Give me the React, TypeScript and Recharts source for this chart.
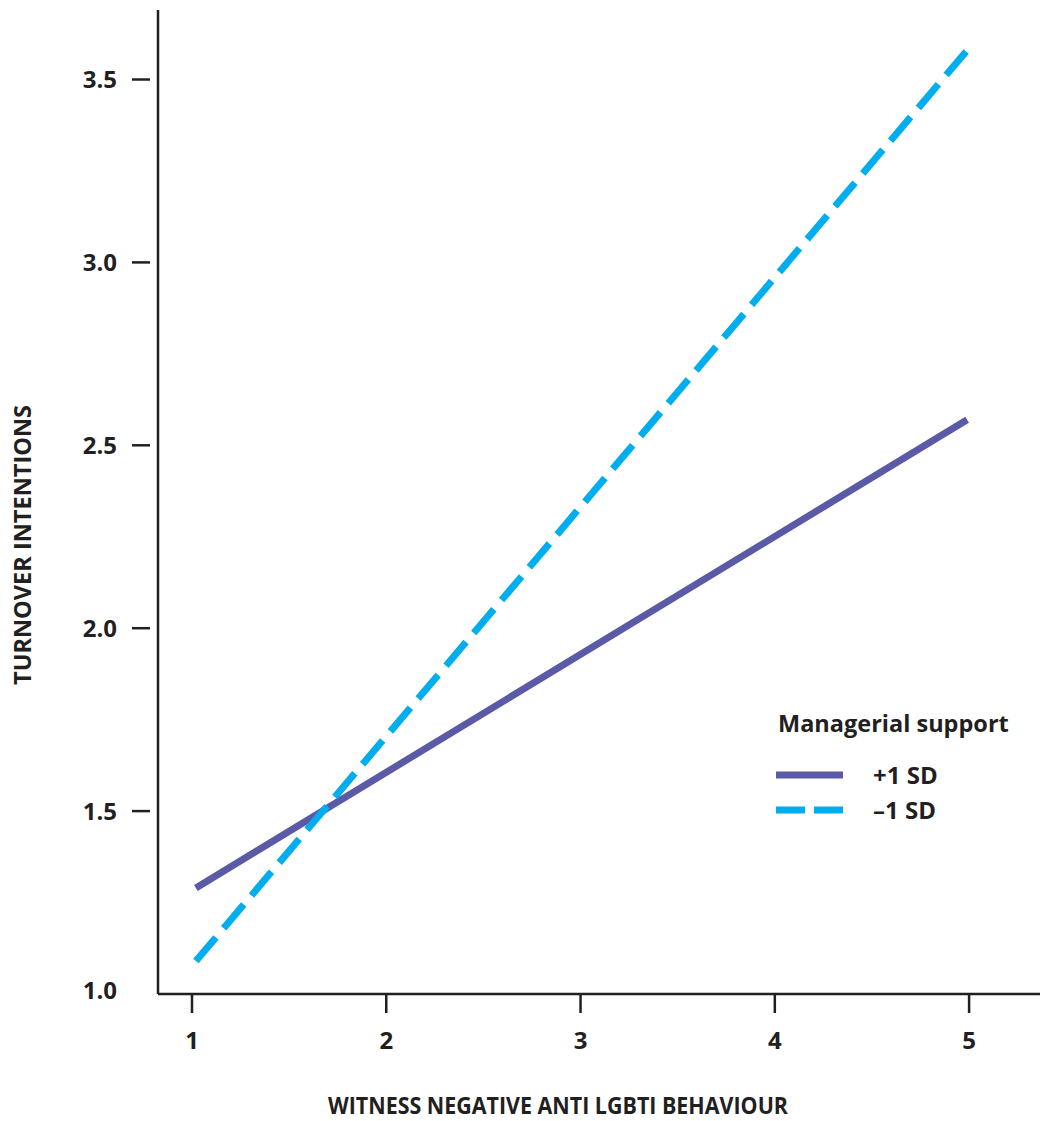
import { LineChart, Line, XAxis, YAxis } from 'recharts'

// valores
const xTicks = [1, 2, 3, 4, 5]
const yTicks = [1.0, 1.5, 2.0, 2.5, 3.0, 3.5]
const xStart = 1.02
const xEnd = 4.99
const highSupport = [1.29, 2.57] // +1 SD
const lowSupport = [1.09, 3.58] // –1 SD
const seriesLabels = ['+1 SD', '–1 SD']

const highData = [
  { x: xStart, y: highSupport[0] },
  { x: xEnd, y: highSupport[1] },
]
const lowData = [
  { x: xStart, y: lowSupport[0] },
  { x: xEnd, y: lowSupport[1] },
]

const PURPLE = '#5b5aa6'
const CYAN = '#00aeef'
const INK = '#231f20'
const FONT = '"Open Sans", "Noto Sans", sans-serif'

function YTick({ x, y, payload }: any) {
  const first = payload.value === 1
  return (
    <g>
      {!first && <line x1={x - 18} y1={y} x2={x} y2={y} stroke={INK} strokeWidth={2.5} />}
      <text x={x - 33} y={first ? y - 4 : y} dy={8.5} textAnchor="end" fill={INK}
        fontFamily={FONT} fontWeight={700} fontSize={24}>
        {payload.value.toFixed(1)}
      </text>
    </g>
  )
}

function XTitle({ viewBox }: any) {
  const cx = viewBox.x + viewBox.width / 2 - 41
  return (
    <text x={cx} y={viewBox.y + 120} textAnchor="middle" fill={INK}
      fontFamily={FONT} fontWeight={700} fontSize={24} textLength={460} lengthAdjust="spacingAndGlyphs">
      WITNESS NEGATIVE ANTI LGBTI BEHAVIOUR
    </text>
  )
}

function YTitle({ viewBox }: any) {
  const cx = viewBox.x + 21
  const cy = viewBox.y + viewBox.height / 2 + 43
  return (
    <text x={cx} y={cy} transform={`rotate(-90, ${cx}, ${cy})`} textAnchor="middle" dominantBaseline="central"
      fill={INK} fontFamily={FONT} fontWeight={700} fontSize={24} textLength={280} lengthAdjust="spacingAndGlyphs">
      TURNOVER INTENTIONS
    </text>
  )
}

function LegendBox() {
  const items = [
    { label: seriesLabels[0], color: PURPLE, dash: undefined },
    { label: seriesLabels[1], color: CYAN, dash: '29 9' },
  ]
  return (
    <svg width={264} height={130} style={{ position: 'absolute', left: 776, top: 700 }}>
      <text x={2} y={32} fill={INK} fontFamily={FONT} fontWeight={700} fontSize={23.5}>Managerial support</text>
      {items.map((it, i) => (
        <g key={it.label}>
          <line x1={0} y1={75 + i * 35} x2={67} y2={75 + i * 35} stroke={it.color} strokeWidth={7} strokeDasharray={it.dash} />
          <text x={97} y={75 + i * 35 + 8.5} fill={INK} fontFamily={FONT} fontWeight={700} fontSize={24}>{it.label}</text>
        </g>
      ))}
    </svg>
  )
}

export default function App() {
  return (
    <div style={{ position: 'relative', width: 1040, height: 1121, background: '#fff' }}>
      <style>{'body { margin: 0; overflow: hidden; }'}</style>
      <LineChart width={1040} height={1121} margin={{ top: 10, right: 0, bottom: 0, left: 0 }}>
        <XAxis
          type="number"
          dataKey="x"
          domain={[0.825, 5.365]}
          ticks={xTicks}
          allowDataOverflow
          height={127}
          axisLine={{ stroke: INK, strokeWidth: 2.5 }}
          tickLine={{ stroke: INK, strokeWidth: 2.5 }}
          tickSize={19}
          tickMargin={19}
          tick={{ fill: INK, fontFamily: FONT, fontWeight: 700, fontSize: 24 }}
          label={<XTitle />}
        />
        <YAxis
          type="number"
          dataKey="y"
          domain={[1.0, 3.69]}
          ticks={yTicks}
          allowDataOverflow
          width={158}
          axisLine={{ stroke: INK, strokeWidth: 2.5 }}
          tickLine={false}
          tick={<YTick />}
          label={<YTitle />}
        />
        <Line data={highData} dataKey="y" stroke={PURPLE} strokeWidth={7} dot={false} isAnimationActive={false} />
        <Line data={lowData} dataKey="y" stroke={CYAN} strokeWidth={7} strokeDasharray="31 12" dot={false} isAnimationActive={false} />
      </LineChart>
      <LegendBox />
    </div>
  )
}
